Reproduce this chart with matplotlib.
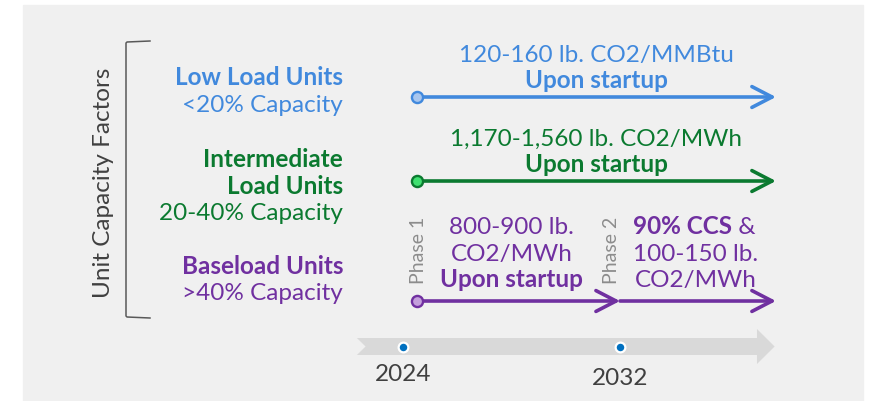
import matplotlib
matplotlib.use('Agg')
import matplotlib.pyplot as plt
from matplotlib.patches import Polygon, Rectangle

plt.rcParams['font.family'] = ['Lato', 'DejaVu Sans']

# chart content
unit_names = [['Low Load Units'], ['Intermediate', 'Load Units'], ['Baseload Units']]
capacity = ['<20% Capacity', '20-40% Capacity', '>40% Capacity']
limits = [['120-160 lb. CO2/MMBtu'], ['1,170-1,560 lb. CO2/MWh'], ['800-900 lb.', 'CO2/MWh']]
timing = ['Upon startup', 'Upon startup', 'Upon startup']
phase2_bold = '90% CCS'
phase2_lines = ['100-150 lb.', 'CO2/MWh']
years = [2024, 2032]
phases = ['Phase 1', 'Phase 2']
axis_title = 'Unit Capacity Factors'

colors = ['#4189dd', '#0b7a30', '#7030a0']
fills = ['#a8c6ee', '#3fe070', '#c49fdc']
gray_txt = '#404040'
FS = 17.5

# layout (pixels on a 871x401 canvas, years on the x axis of the timeline)
W, H = 871, 401
px0, px_per_year = 403, 27.125
row_y = [97, 181, 301]
label_base = [85, 167, 274]
line_step = 26.5
start_yr = years[0] + 0.5
end_yr = 2037.75

fig = plt.figure(figsize=(W / 100, H / 100), dpi=100)
fig.patch.set_facecolor('white')

lay = fig.add_axes([0, 0, 1, 1])
lay.set_xlim(0, W)
lay.set_ylim(H, 0)
lay.axis('off')

ax = fig.add_axes([0, 0, 1, 1])
ax.set_xlim(years[0] - px0 / px_per_year, years[0] + (W - px0) / px_per_year)
ax.set_ylim(H, 0)
ax.patch.set_alpha(0)
ax.axis('off')

# panel + bracket
lay.add_patch(Rectangle((23, 5), 840, 400, color='#f0f0f0', zorder=0))
lay.plot([150, 127, 126, 126, 127, 150], [41, 42, 43, 316, 317, 318],
         color='#595959', lw=1.1, solid_joinstyle='round')
lay.text(110, 183, axis_title, rotation=90, rotation_mode='anchor',
         ha='center', va='baseline', fontsize=FS, color=gray_txt)

# left labels
for i in range(3):
    y = label_base[i]
    for line in unit_names[i]:
        lay.text(343, y, line, ha='right', va='baseline', fontsize=FS,
                 fontweight='bold', color=colors[i])
        y += line_step
    lay.text(343, y, capacity[i], ha='right', va='baseline', fontsize=FS,
             color=colors[i])

# timeline
tl = Polygon([(2022.3, 338), (2037.05, 338), (2037.05, 329), (2037.7, 346.5),
              (2037.05, 364), (2037.05, 355), (2022.3, 355), (2022.62, 346.5)],
             closed=True, color='#d9d9d9', lw=0, zorder=1)
ax.add_patch(tl)
ax.plot(years, [347, 347], 'o', ms=7, color='#0070c0', mec='white', mew=1.6, zorder=3)
for yr, yb in zip(years, [381, 385]):
    ax.text(yr, yb, str(yr), ha='center', va='baseline', fontsize=FS, color=gray_txt)


def arrow(x0, x1, y, c):
    ax.annotate('', xy=(x1, y), xytext=(x0, y),
                arrowprops=dict(arrowstyle='->,head_length=1.45,head_width=0.75',
                                color=c, lw=2.6, shrinkA=0, shrinkB=0,
                                mutation_scale=10))


# blue and green rows
for i in range(2):
    y = row_y[i]
    arrow(start_yr, end_yr, y, colors[i])
    mid = (start_yr + end_yr) / 2
    ax.text(mid, y - 9, timing[i], ha='center', va='baseline', fontsize=FS,
            fontweight='bold', color=colors[i])
    ax.text(mid, y - 35, limits[i][0], ha='center', va='baseline', fontsize=FS,
            color=colors[i])

# purple row, two phases
y = row_y[2]
c = colors[2]
arrow(start_yr, years[1], y, c)
arrow(years[1], end_yr, y, c)
mid1 = 2028.0
ax.text(mid1, y - 14, timing[2], ha='center', va='baseline', fontsize=FS,
        fontweight='bold', color=c)
ax.text(mid1, y - 40, limits[2][1], ha='center', va='baseline', fontsize=FS, color=c)
ax.text(mid1, y - 66.5, limits[2][0], ha='center', va='baseline', fontsize=FS, color=c)

mid2 = 2034.8
ax.text(mid2, y - 14, phase2_lines[1], ha='center', va='baseline', fontsize=FS, color=c)
ax.text(mid2, y - 40, phase2_lines[0], ha='center', va='baseline', fontsize=FS, color=c)
b = ax.annotate(phase2_bold, xy=(mid2, y - 67.5), xytext=(-10, 0), textcoords='offset points',
                ha='center', va='baseline', fontsize=FS, fontweight='bold', color=c)
ax.annotate(' &', xy=(1, 0), xycoords=b, ha='left', va='bottom', fontsize=FS, color=c)

for xs, ph in zip([years[0] + 0.78, years[1] - 0.1], phases):
    ax.text(xs, 250.5, ph, rotation=90, rotation_mode='anchor', ha='center',
            va='baseline', fontsize=14, color='#8c8c8c')

# start markers
for i in range(3):
    ax.plot([start_yr], [row_y[i]], 'o', ms=8, mfc=fills[i], mec=colors[i], mew=1.7, zorder=4)

fig.savefig('out.png', dpi=100, facecolor='white')
